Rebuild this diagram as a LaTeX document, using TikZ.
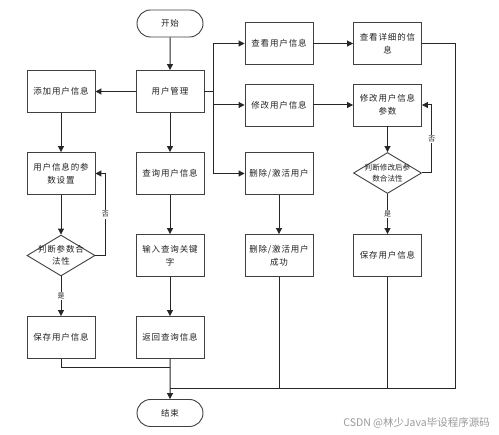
\documentclass[tikz,border=0pt]{standalone}
\usepackage{fontspec}
\setmainfont[LetterSpace=10]{Noto Sans CJK SC}
\newfontfamily\plainfont{Noto Sans CJK SC}
\usetikzlibrary{shapes.geometric,shapes.misc,arrows.meta}
\definecolor{edge}{HTML}{404040}
\definecolor{txt}{HTML}{222222}
\tikzset{
  x=1pt,y=-1pt,
  box/.style={draw=edge,line width=0.9pt,fill=white,minimum width=68pt,minimum height=42pt,inner sep=1pt,align=center,text=txt,font=\fontsize{8.5}{13}\selectfont},
  term/.style={draw=edge,line width=0.9pt,fill=white,rounded rectangle,minimum width=68pt,minimum height=27pt,inner sep=1pt,text=txt,font=\fontsize{8.5}{13}\selectfont},
  dia/.style={draw=edge,line width=0.9pt,fill=white,diamond,minimum width=68pt,minimum height=41pt,inner sep=0pt},
  diatext/.style={align=center,text=txt,inner sep=0pt},
  conn/.style={draw=black!85,line width=1pt},
  arr/.style={conn,-{Triangle[length=6pt,width=6pt]}},
  lab/.style={fill=white,inner sep=1pt,text=txt,font=\plainfont\fontsize{7}{8}\selectfont},
}
\begin{document}
\begin{tikzpicture}
\useasboundingbox (0,0) rectangle (499,435);
% nodes
\node[term] (start) at (170,23.5) {开始};
\node[box] (mgmt) at (170,91.5) {用户管理};
\node[box] (add) at (61,91.5) {添加用户信息};
\node[box] (param) at (61,173.5) {用户信息的参\\数设置};
\node[dia] (ldia) at (61,255.5) {};
\node[diatext,font=\fontsize{8.5}{12}\selectfont] at (ldia) {判断参数合\\法性};
\node[box] (lsave) at (61,337.5) {保存用户信息};
\node[box] (query) at (170,173.5) {查询用户信息};
\node[box] (input) at (170,255.5) {输入查询关键\\字};
\node[box] (ret) at (170,337.5) {返回查询信息};
\node[term] (end) at (170,413) {结束};
\node[box] (view) at (279,43.5) {查看用户信息};
\node[box] (viewd) at (387.5,43.5) {查看详细的信\\息};
\node[box] (modify) at (279,105) {修改用户信息};
\node[box] (modp) at (387.5,105) {修改用户信息\\参数};
\node[dia] (rdia) at (387.5,173) {};
\node[diatext,font=\plainfont\fontsize{7.6}{10.5}\selectfont] at (rdia) {判断修改后参\\数合法性};
\node[box] (rsave) at (387.5,255.5) {保存用户信息};
\node[box] (del) at (279,173.5) {删除/激活用户};
\node[box] (delok) at (279,255.5) {删除/激活用户\\成功};
% coordinates
\coordinate (j) at (213,91.5);
\coordinate (m1) at (170,368);
\coordinate (b) at (170,389);
\coordinate (rb) at (455.5,389);
% connectors
\draw[arr] (start) -- (mgmt);
\draw[arr] (mgmt.west) -- (add.east);
\draw[arr] (mgmt) -- (query);
\draw[conn] (mgmt.east) -- (j);
\draw[arr] (j) |- (view.west);
\draw[arr] (j) |- (modify.west);
\draw[arr] (j) |- (del.west);
\draw[arr] (view) -- (viewd);
\draw[arr] (modify) -- (modp);
\draw[arr] (modp) -- (rdia);
\draw[arr] (rdia) -- node[lab]{是} (rsave);
\draw[arr] (rdia.east) -- ++(10,0) |- node[lab,pos=0.25]{否} (modp.east);
\draw[arr] (del) -- (delok);
\draw[arr] (add) -- (param);
\draw[arr] (param) -- (ldia);
\draw[arr] (ldia) -- node[lab]{是} (lsave);
\draw[arr] (ldia.east) -- ++(10,0) |- node[lab,pos=0.25]{否} (param.east);
\draw[arr] (query) -- (input);
\draw[arr] (input) -- (ret);
\draw[arr] (ret) -- (end);
\draw[conn] (lsave.south) |- (m1);
\draw[conn] (viewd.east) -| (rb) -- (b);
\draw[conn] (delok.south) -- (delok.south |- b);
\draw[conn] (rsave.south) -- (rsave.south |- b);
% watermark
\node[text=black!40,font=\plainfont\fontsize{10.5}{12}\selectfont,anchor=east,inner sep=0pt] (wm) at (490,423) {CSDN @林少Java毕设程序源码};
\end{tikzpicture}
\end{document}
